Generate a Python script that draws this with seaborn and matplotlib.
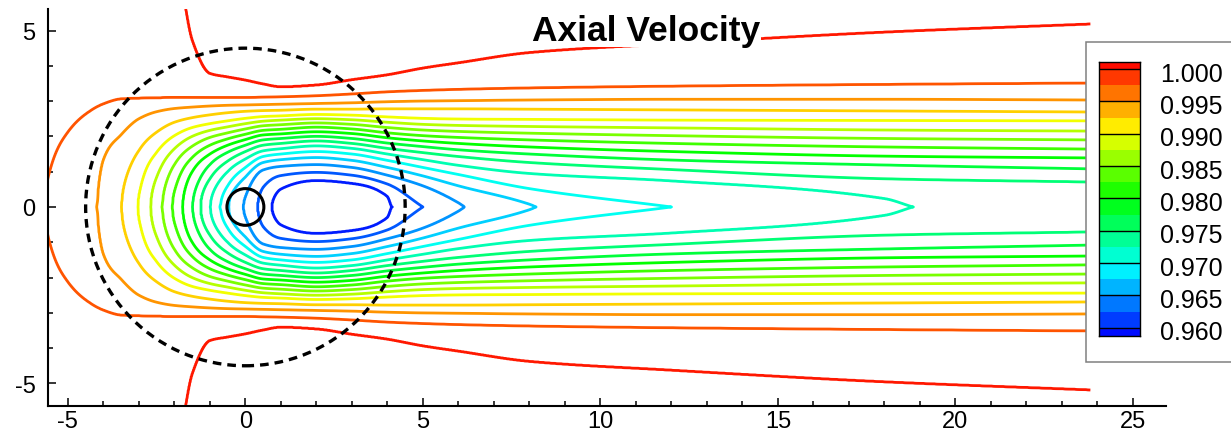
import numpy as np
import matplotlib
matplotlib.use("Agg")
import matplotlib.pyplot as plt
import matplotlib.patches as mpatches
import matplotlib.transforms as mtransforms
import seaborn as sns

sns.set_style("ticks")
plt.rcParams['font.family'] = ['Liberation Sans', 'DejaVu Sans']
plt.rcParams['axes.unicode_minus'] = False
plt.rcParams['text.color'] = 'black'
plt.rcParams['xtick.color'] = 'black'
plt.rcParams['ytick.color'] = 'black'
plt.rcParams['axes.edgecolor'] = 'black'

# ------------------------------------------------------------
# Data
# ------------------------------------------------------------
N = np.nan

# x stations where the contour crossings were read
station_x = [-6.0, -5.5, -5.0, -4.5, -4.0, -3.5, -3.0, -2.5, -2.0, -1.5, -1.0, -0.5,
             0.0, 0.5, 1.0, 2.0, 3.0, 4.0, 5.0, 6.0, 8.0, 12.0, 18.0, 23.8]

# velocity on the axis (y = 0) and at the outer edge (|y| = 6.3) per station
axis_u = [0.9978, 0.99725, 0.9964, 0.9956, 0.99438, 0.99254, 0.98985, 0.98621,
          0.98198, 0.97759, 0.97259, 0.96773, 0.96465, 0.96169, 0.9590, 0.9583,
          0.9586, 0.9597, 0.9625, 0.96475, 0.96737, 0.9700, 0.97221, 0.9737]
edge_u = [0.9984, 0.9984, 0.9985, 0.9986, 0.9987, 0.9988, 0.9989, 0.9991,
          0.9994, 1.0006, 1.0008, 1.0009, 1.0010, 1.0010, 1.0010, 1.0010,
          1.0009, 1.0008, 1.0007, 1.0006, 1.0005, 1.0004, 1.0003, 1.0002]

contour_levels = [0.960, 0.9625, 0.965, 0.9675, 0.970, 0.9725, 0.975, 0.9775, 0.980,
                  0.9825, 0.985, 0.9875, 0.990, 0.9925, 0.995, 0.9975, 1.000]

# where each level starts (upstream nose) and where it closes downstream
nose_x = [0.74, 0.34, -0.06, -0.48, -0.70, -0.99, -1.27, -1.49, -1.77, -2.06, -2.34,
          -2.67, -3.03, -3.49, -4.17, -5.65, -1.80]
nose_y = [0, 0, 0, 0, 0, 0, 0, 0, 0, 0, 0, 0, 0, 0, 0, 0, 6.3]
tip_x = [4.12, 5.0, 6.18, 8.2, 12.0, 18.8, N, N, N, N, N, N, N, N, N, N, N]

# upper half-width (y) of each contour level at each station, NaN = no crossing
y_0960  = [N, N, N, N, N, N, N, N, N, N, N, N, N, N, 0.51, 0.75, 0.67, 0.30, N, N, N, N, N, N]
y_09625 = [N, N, N, N, N, N, N, N, N, N, N, N, N, 0.56, 0.89, 0.98, 0.90, 0.65, N, N, N, N, N, N]
y_0965  = [N, N, N, N, N, N, N, N, N, N, N, N, 0.30, 1.05, 1.15, 1.20, 1.12, 0.90, 0.60, 0.12, N, N, N, N]
y_09675 = [N, N, N, N, N, N, N, N, N, N, N, N, 0.85, 1.26, 1.34, 1.40, 1.32, 1.12, 0.88, 0.60, 0.08, N, N, N]
y_0970  = [N, N, N, N, N, N, N, N, N, N, N, 0.60, 1.12, 1.43, 1.50, 1.57, 1.50, 1.32, 1.12, 0.92, 0.52, N, N, N]
y_09725 = [N, N, N, N, N, N, N, N, N, N, N, 1.00, 1.36, 1.59, 1.65, 1.73, 1.66, 1.50, 1.34, 1.18, 0.95, 0.74, 0.24, N]
y_0975  = [N, N, N, N, N, N, N, N, N, N, 0.80, 1.30, 1.57, 1.75, 1.80, 1.87, 1.80, 1.66, 1.54, 1.43, 1.26, 1.06, 0.80, 0.71]
y_09775 = [N, N, N, N, N, N, N, N, N, N, 1.20, 1.55, 1.75, 1.90, 1.94, 2.00, 1.94, 1.81, 1.71, 1.62, 1.50, 1.33, 1.19, 1.08]
y_0980  = [N, N, N, N, N, N, N, N, N, 1.00, 1.50, 1.75, 1.91, 2.04, 2.07, 2.13, 2.08, 1.96, 1.87, 1.80, 1.70, 1.57, 1.44, 1.39]
y_09825 = [N, N, N, N, N, N, N, N, 0.45, 1.40, 1.75, 1.93, 2.06, 2.17, 2.20, 2.26, 2.21, 2.10, 2.02, 1.97, 1.90, 1.80, 1.70, 1.64]
y_0985  = [N, N, N, N, N, N, N, N, 1.20, 1.72, 1.97, 2.10, 2.21, 2.30, 2.33, 2.38, 2.34, 2.25, 2.18, 2.14, 2.09, 2.02, 1.94, 1.90]
y_09875 = [N, N, N, N, N, N, N, 0.85, 1.65, 2.00, 2.17, 2.27, 2.36, 2.43, 2.46, 2.50, 2.47, 2.40, 2.34, 2.31, 2.28, 2.24, 2.18, 2.15]
y_0990  = [N, N, N, N, N, N, 0.35, 1.55, 2.02, 2.25, 2.36, 2.44, 2.51, 2.56, 2.58, 2.62, 2.60, 2.55, 2.51, 2.49, 2.48, 2.46, 2.45, 2.44]
y_09925 = [N, N, N, N, N, N, 1.60, 2.12, 2.40, 2.53, 2.61, 2.67, 2.71, 2.73, 2.74, 2.77, 2.77, 2.78, 2.78, 2.78, 2.77, 2.75, 2.72, 2.69]
y_0995  = [N, N, N, N, 1.35, 2.05, 2.50, 2.70, 2.79, 2.83, 2.86, 2.88, 2.89, 2.90, 2.91, 2.93, 2.95, 2.98, 3.00, 3.01, 3.03, 3.05, 3.05, 3.03]
y_09975 = [N, 1.05, 2.12, 2.63, 2.92, 3.06, 3.08, 3.09, 3.10, 3.10, 3.10, 3.10, 3.10, 3.11, 3.12, 3.15, 3.20, 3.26, 3.30, 3.33, 3.37, 3.42, 3.47, 3.51]
y_1000  = [N, N, N, N, N, N, N, N, N, 4.72, 3.78, 3.68, 3.59, 3.48, 3.40, 3.45, 3.60, 3.74, 3.93, 4.08, 4.37, 4.62, 4.95, 5.18]

level_rows = [y_0960, y_09625, y_0965, y_09675, y_0970, y_09725, y_0975, y_09775, y_0980,
              y_09825, y_0985, y_09875, y_0990, y_09925, y_0995, y_09975, y_1000]

cbar_values = [1.000, 0.995, 0.990, 0.985, 0.980, 0.975, 0.970, 0.965, 0.960]
cbar_min, cbar_max = 0.95876, 1.00113

# ------------------------------------------------------------
# Field rebuilt from the read crossings
# ------------------------------------------------------------
def pchip(xk, yk, xq):
    xk = np.asarray(xk, float)
    yk = np.atleast_2d(np.asarray(yk, float))
    h = np.diff(xk)
    d = np.diff(yk, axis=1) / h
    m = np.zeros_like(yk)
    if len(xk) > 2:
        w1 = 2 * h[1:] + h[:-1]
        w2 = h[1:] + 2 * h[:-1]
        d0, d1 = d[:, :-1], d[:, 1:]
        with np.errstate(divide="ignore", invalid="ignore"):
            hm = (w1 + w2) / (w1 / d0 + w2 / d1)
        m[:, 1:-1] = np.where(d0 * d1 > 0, hm, 0.0)
    m[:, 0] = d[:, 0]
    m[:, -1] = d[:, -1]
    j = np.clip(np.searchsorted(xk, xq) - 1, 0, len(xk) - 2)
    t = (xq - xk[j]) / h[j]
    h00 = 2 * t**3 - 3 * t**2 + 1
    h10 = t**3 - 2 * t**2 + t
    h01 = -2 * t**3 + 3 * t**2
    h11 = t**3 - t**2
    out = (h00 * yk[:, j] + h10 * h[j] * m[:, j]
           + h01 * yk[:, j + 1] + h11 * h[j] * m[:, j + 1])
    return out[0]

y_edge = 6.3
xx = np.linspace(station_x[0], station_x[-1], 1400)
yy = np.linspace(0, y_edge, 500)
sx = np.array(station_x)

# each level's half-width along x
n_lev = len(contour_levels)
curve = np.full((n_lev, xx.size), np.nan)
for k in range(n_lev):
    row = np.array(level_rows[k], float)
    ok = ~np.isnan(row)
    px = [nose_x[k]] + list(sx[ok])
    py = [nose_y[k]] + list(row[ok])
    end = tip_x[k] if not np.isnan(tip_x[k]) else station_x[-1]
    if not np.isnan(tip_x[k]):
        px.append(tip_x[k])
        py.append(0.0)
    px, py = np.array(px), np.array(py)
    lin = pchip(px, py, xx)
    sq = np.sqrt(np.clip(pchip(px, py**2, xx), 0, None))
    first = px[1]
    yk = np.where((xx < first) & (nose_y[k] == 0), sq, lin)
    present = (xx > nose_x[k]) & (xx <= end)
    curve[k] = np.where(present, np.clip(yk, 1e-4, None), np.nan)

uc = pchip(sx, axis_u, xx)
ue = pchip(sx, edge_u, xx)
levs = np.array(contour_levels)

half = np.empty((yy.size, xx.size))
for i in range(xx.size):
    col_y = curve[:, i]
    pres = ~np.isnan(col_y)
    ys = col_y[pres]
    us = levs[pres]
    ys = np.maximum.accumulate(ys + np.arange(ys.size) * 1e-4)
    absent_low = levs[~pres & (levs < (us.min() if us.size else 2))]
    lo = absent_low.max() + 1e-6 if absent_low.size else 0.0
    hi = us.min() - 1e-6 if us.size else 2.0
    u0 = np.clip(uc[i], lo, hi)
    top_lo = us.max() + 1e-5 if us.size else u0 + 1e-5
    top_hi = 0.99999 if not pres[-1] else 2.0
    u1 = np.clip(ue[i], top_lo, max(top_hi, top_lo))
    y1 = max(y_edge, ys.max() + 1e-3) if ys.size else y_edge
    prof_y = np.concatenate([[0.0], ys, [y1]])
    prof_u = np.concatenate([[u0], us, [u1]])
    half[:, i] = np.interp(yy, prof_y, prof_u)

Y = np.concatenate([-yy[:0:-1], yy])
U = np.vstack([half[:0:-1], half])

cmap = sns.blend_palette(["#0000ff", "#00ffff", "#00ff00", "#ffff00", "#ff0000"], as_cmap=True)
def col(v):
    return cmap((v - cbar_min) / (cbar_max - cbar_min))

# ------------------------------------------------------------
# Figure
# ------------------------------------------------------------
W, H = 1231, 435
fig = plt.figure(figsize=(W / 100, H / 100), dpi=100)
ax = fig.add_axes([48 / W, 28 / H, (1166 - 48) / W, (425 - 28) / H])

ax.contour(xx, Y, U, levels=contour_levels,
           colors=[col(v) for v in contour_levels], linewidths=2.0, zorder=2)

ax.add_patch(mpatches.Circle((0, 0), 4.5, fill=False, ec="black", lw=2.4,
                             ls=(0, (2.6, 1.8)), zorder=5))
ax.add_patch(mpatches.Circle((0, 0), 0.52, fill=False, ec="black", lw=2.2, zorder=5))

ax.set_xlim(-5.56, 25.93)
ax.set_ylim(-5.64, 5.61)
ax.set_xticks(range(-5, 26, 5))
ax.set_xticks(range(-5, 26), minor=True)
ax.set_yticks([-5, 0, 5])
ax.set_yticks(range(-5, 6), minor=True)
ax.tick_params(which="both", direction="in", width=1.1, color="black", labelsize=17)
ax.tick_params(which="major", length=6)
ax.tick_params(which="minor", length=3.5)
ax.tick_params(axis="y", pad=9)
ax.tick_params(axis="x", pad=3)
sns.despine(ax=ax)
for s in ["left", "bottom"]:
    ax.spines[s].set_linewidth(1.5)
    ax.spines[s].set_color("black")

fig.text(646 / W, 1 - 40.5 / H, "Axial Velocity", ha="center", va="baseline",
         fontsize=25.5, fontweight="bold", color="black", zorder=6,
         bbox=dict(facecolor="white", edgecolor="none", pad=0.5))

# legend frame
frame = mpatches.Rectangle((1086 / W, (H - 363) / H), 0.2, (363 - 43) / H,
                           transform=fig.transFigure, facecolor="white",
                           edgecolor="#808080", lw=1.1, zorder=1)
fig.add_artist(frame)

# colour bar with discrete bands
cax = fig.add_axes([1099.3 / W, (H - 336.7) / H, 40.7 / W, 274 / H])
cax.set_zorder(3)
bounds = [cbar_min] + contour_levels + [cbar_max]
for lo, hi in zip(bounds[:-1], bounds[1:]):
    cax.bar(0, hi - lo, bottom=lo, width=1, color=col((lo + hi) / 2), edgecolor="none")
for v in cbar_values:
    cax.axhline(v, color="black", lw=1.0)
cax.set_xlim(-0.5, 0.5)
cax.set_ylim(cbar_min, cbar_max)
cax.set_xticks([])
cax.set_yticks([])
for s in cax.spines.values():
    s.set_visible(True)
    s.set_linewidth(1.0)
    s.set_color("black")
tr = mtransforms.blended_transform_factory(cax.transAxes, cax.transData)
for v in cbar_values:
    cax.text((1160 - 1099.3) / 40.7, v - 0.0007, f"{v:.3f}", transform=tr,
             ha="left", va="center", fontsize=18, clip_on=False)

fig.savefig("out.png", dpi=100)
